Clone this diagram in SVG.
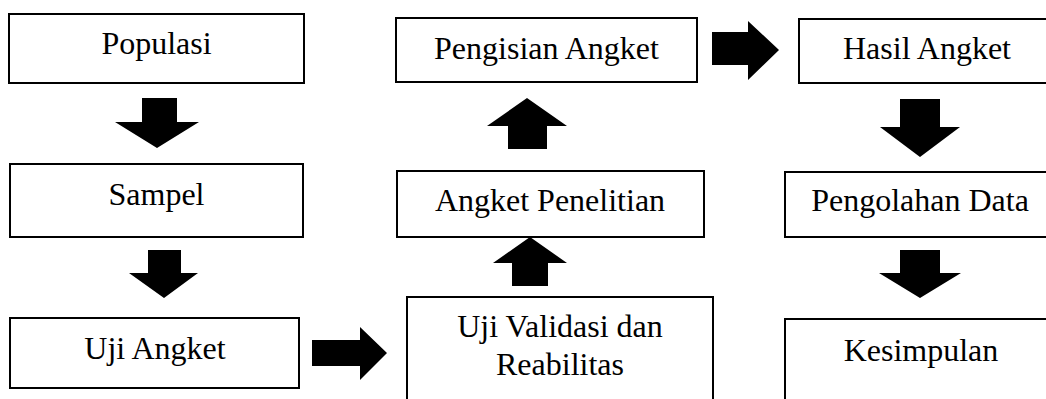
<svg xmlns="http://www.w3.org/2000/svg" width="1046" height="399" viewBox="0 0 1046 399">
<style>
.box{fill:#fff;stroke:#000;stroke-width:2}
.lbl{font-family:"Liberation Serif","Times New Roman",serif;font-size:32px;fill:#000;text-anchor:middle}
.arr{fill:#000;stroke:none}
</style>
<rect width="1046" height="399" fill="#fff"/>
<g id="populasi"><rect class="box" x="9" y="14" width="295" height="69"/><text class="lbl" x="156.5" y="54">Populasi</text></g>
<g id="sampel"><rect class="box" x="10" y="164" width="293" height="73"/><text class="lbl" x="156.5" y="205">Sampel</text></g>
<g id="uji-angket"><rect class="box" x="10" y="318" width="289" height="70"/><text class="lbl" x="155" y="359">Uji Angket</text></g>
<g id="uji-validasi"><rect class="box" x="407" y="297" width="306" height="120"/><text class="lbl" x="560" y="337">Uji Validasi dan</text><text class="lbl" x="560" y="375">Reabilitas</text></g>
<g id="angket-penelitian"><rect class="box" x="397" y="171" width="307" height="66"/><text class="lbl" x="550" y="211">Angket Penelitian</text></g>
<g id="pengisian-angket"><rect class="box" x="396" y="18" width="301" height="64"/><text class="lbl" x="546.5" y="59">Pengisian Angket</text></g>
<g id="hasil-angket"><rect class="box" x="799" y="19" width="260" height="64"/><text class="lbl" x="927" y="59">Hasil Angket</text></g>
<g id="pengolahan-data"><rect class="box" x="785" y="172" width="275" height="65"/><text class="lbl" x="920" y="211">Pengolahan Data</text></g>
<g id="kesimpulan"><rect class="box" x="785" y="319" width="275" height="100"/><text class="lbl" x="921" y="361">Kesimpulan</text></g>
<g id="connectors">
<polygon class="arr" points="142,98 177,98 177,122 199,122 157,148 115,122 142,122"/>
<polygon class="arr" points="148,250 181,250 181,273 198,273 164,298 129,273 148,273"/>
<polygon class="arr" points="312,340 360,340 360,327 387,353 360,380 360,366 312,366"/>
<polygon class="arr" points="527,98 567,126 547,126 547,149 508,149 508,126 487,126"/>
<polygon class="arr" points="530,237 567,263 548,263 548,286 512,286 512,263 493,263"/>
<polygon class="arr" points="712,32 748,32 748,21 779,50 748,80 748,65 712,65"/>
<polygon class="arr" points="900,99 940,99 940,127 960,127 920,157 880,127 900,127"/>
<polygon class="arr" points="900,250 940,250 940,273 961,273 920,298 879,273 900,273"/>
</g>
</svg>
